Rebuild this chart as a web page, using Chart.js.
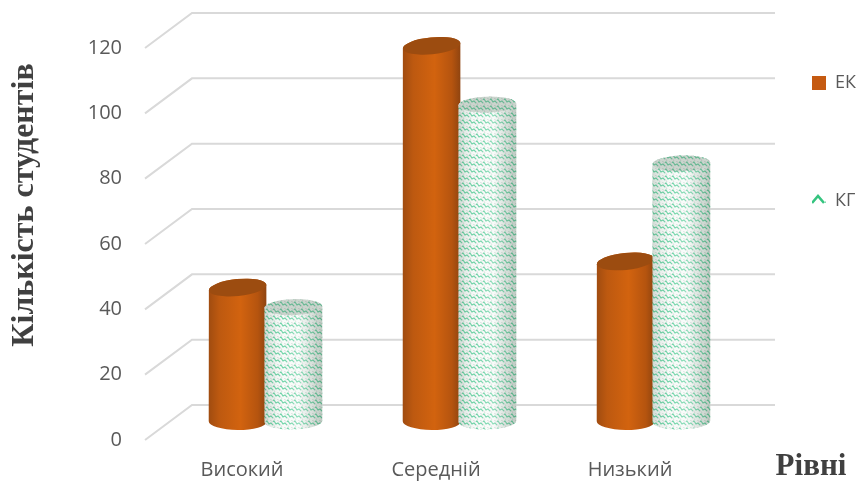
<!DOCTYPE html>
<html lang="uk">
<head>
<meta charset="utf-8">
<title>Кількість студентів</title>
<script src="https://cdn.jsdelivr.net/npm/chart.js@4"></script>
<style>
  html, body { margin: 0; padding: 0; background: #fff; }
  canvas { display: block; }
</style>
</head>
<body>
<canvas id="chart" width="857" height="484"></canvas>
<script>
// Рівні студентів: циліндри малюються поверх елементів Chart.js
const categories = ['Високий', 'Середній', 'Низький'];
const seriesEK = [41, 115, 49];
const seriesKG = [35, 97, 79];
const yTitle = 'Кількість студентів';
const xTitle = 'Рівні';

const DEPTH_X = 47, DEPTH_Y = 35;   // зсув задньої стінки відносно передньої
const BAR_DY = 18.5;                // циліндри стоять посередині глибини

function wavePattern() {
  const c = document.createElement('canvas');
  c.width = 7; c.height = 7;
  const g = c.getContext('2d');
  g.fillStyle = '#f7faf8';
  g.fillRect(0, 0, 7, 7);
  g.strokeStyle = '#62cf9f';
  g.lineWidth = 1.2;
  g.beginPath();
  g.moveTo(-1, 2); g.lineTo(1, 1); g.lineTo(3, 4); g.lineTo(5, 3); g.lineTo(8, 6);
  g.stroke();
  g.strokeStyle = '#c9d6cf';
  g.lineWidth = 0.8;
  g.beginPath();
  g.moveTo(4, 0); g.lineTo(7, 2);
  g.moveTo(0, 4); g.lineTo(2, 7);
  g.stroke();
  return c;
}

function keyPattern() {
  const c = document.createElement('canvas');
  c.width = 14; c.height = 14;
  const g = c.getContext('2d');
  g.fillStyle = '#fff';
  g.fillRect(0, 0, 14, 14);
  g.strokeStyle = '#35c47f';
  g.lineWidth = 2.6;
  g.beginPath();
  g.moveTo(1, 12); g.lineTo(7, 5); g.lineTo(13, 12);
  g.stroke();
  return c;
}

const ctx = document.getElementById('chart').getContext('2d');
const kgFill = ctx.createPattern(wavePattern(), 'repeat');
const keyFill = ctx.createPattern(keyPattern(), 'repeat');
keyFill.setTransform(new DOMMatrix().translate(811, 191));

function cylinderPath(c, cx, top, bottom, rx, ry, rotTop, rotBottom) {
  c.beginPath();
  c.ellipse(cx, bottom, rx, ry, rotBottom, 0, Math.PI);
  c.ellipse(cx, top, rx, ry, rotTop, Math.PI, Math.PI * 2);
  c.closePath();
}

function drawOrange(c, cx, top, bottom, rx) {
  const rot = -0.1, ry = 8.5;
  cylinderPath(c, cx, top, bottom, rx, ry, rot, 0.01);
  const g = c.createLinearGradient(cx - rx, 0, cx + rx, 0);
  g.addColorStop(0, '#a04c10');
  g.addColorStop(0.18, '#bd5910');
  g.addColorStop(0.55, '#d2630f');
  g.addColorStop(0.85, '#b5540f');
  g.addColorStop(1, '#8f4410');
  c.fillStyle = g;
  c.fill();
  c.beginPath();
  c.ellipse(cx, top, rx, ry, rot, 0, Math.PI * 2);
  c.fillStyle = '#9c4c10';
  c.fill();
}

function drawPatterned(c, cx, top, bottom, rx) {
  const rot = -0.03, ry = 8;
  cylinderPath(c, cx, top, bottom, rx, ry, rot, -0.03);
  c.fillStyle = kgFill;
  c.fill();
  const g = c.createLinearGradient(cx - rx, 0, cx + rx, 0);
  g.addColorStop(0, 'rgba(90,120,100,0.25)');
  g.addColorStop(0.3, 'rgba(255,255,255,0.1)');
  g.addColorStop(0.6, 'rgba(255,255,255,0.3)');
  g.addColorStop(1, 'rgba(60,90,70,0.3)');
  c.fillStyle = g;
  c.fill();
  c.beginPath();
  c.ellipse(cx, top, rx, ry, rot, 0, Math.PI * 2);
  c.fillStyle = kgFill;
  c.fill();
  c.fillStyle = 'rgba(120,140,125,0.35)';
  c.fill();
}

const cylinders = {
  id: 'cylinders',
  afterLayout(chart) {
    // легенда стоїть окремо від області графіка
    const l = chart.legend;
    l.left = 712; l.right = 857; l.top = -26; l.bottom = 484;
  },
  beforeDatasetsDraw(chart) {
    const c = chart.ctx, a = chart.chartArea, y = chart.scales.y;
    c.save();
    c.strokeStyle = '#d9d9d9';
    c.lineWidth = 2;
    y.ticks.forEach((t) => {
      const py = y.getPixelForValue(t.value);
      c.beginPath();
      c.moveTo(a.left, py);
      c.lineTo(a.left + DEPTH_X, py - DEPTH_Y);
      c.lineTo(a.right + DEPTH_X + 1, py - DEPTH_Y);
      c.stroke();
    });
    c.restore();
  },
  beforeDatasetDraw() {
    return false;   // стовпці малюємо самі в afterDatasetsDraw
  },
  afterDatasetsDraw(chart) {
    const c = chart.ctx;
    c.save();
    chart.data.datasets.forEach((ds, i) => {
      chart.getDatasetMeta(i).data.forEach((el) => {
        const cx = el.x + DEPTH_X / 2;
        const top = el.y - BAR_DY;
        const bottom = el.base - BAR_DY;
        const rx = el.width / 2 + 1;
        if (i === 0) drawOrange(c, cx, top, bottom, rx);
        else drawPatterned(c, cx, top, bottom, rx);
      });
    });
    // назви осей
    c.fillStyle = '#404040';
    c.textAlign = 'center';
    c.textBaseline = 'middle';
    c.font = 'bold 31px "Liberation Serif"';
    c.fillText(xTitle, 811, 467);
    c.font = 'bold 32px "Liberation Serif"';
    c.translate(25, 205);
    c.rotate(-Math.PI / 2);
    c.fillText(yTitle, 0, 0);
    c.restore();
  },
};

new Chart(ctx, {
  type: 'bar',
  data: {
    labels: categories,
    datasets: [
      { label: 'ЕК', data: seriesEK, backgroundColor: '#c55a11' },
      { label: 'КГ', data: seriesKG, backgroundColor: kgFill },
    ],
  },
  options: {
    responsive: false,
    animation: false,
    devicePixelRatio: 1,
    layout: { padding: { left: 0, right: 130, top: 48, bottom: 0 } },
    datasets: { bar: { categoryPercentage: 0.575, barPercentage: 1 } },
    plugins: {
      tooltip: { enabled: false },
      legend: {
        position: 'chartArea',
        align: 'start',
        labels: {
          font: { family: "'Open Sans'", size: 18 },
          color: '#595959',
          boxWidth: 14,
          boxHeight: 14,
          padding: 100,
          generateLabels(chart) {
            return chart.data.datasets.map((ds, i) => ({
              text: ds.label,
              fillStyle: i === 1 ? keyFill : ds.backgroundColor,
              lineWidth: 0,
              strokeStyle: 'transparent',
              fontColor: '#595959',
              datasetIndex: i,
            }));
          },
        },
      },
    },
    scales: {
      x: {
        grid: { display: false },
        border: { display: false },
        afterFit: (s) => { s.height = 44; },
        ticks: { color: '#595959', padding: 10, maxRotation: 0, font: { family: "'Open Sans'", size: 20 } },
      },
      y: {
        min: 0,
        max: 120,
        grid: { display: false },
        border: { display: false },
        afterFit: (s) => { s.width = 145; },
        ticks: { stepSize: 20, color: '#595959', padding: 15, font: { family: "'Open Sans'", size: 20 } },
      },
    },
  },
  plugins: [cylinders],
});
</script>
</body>
</html>
